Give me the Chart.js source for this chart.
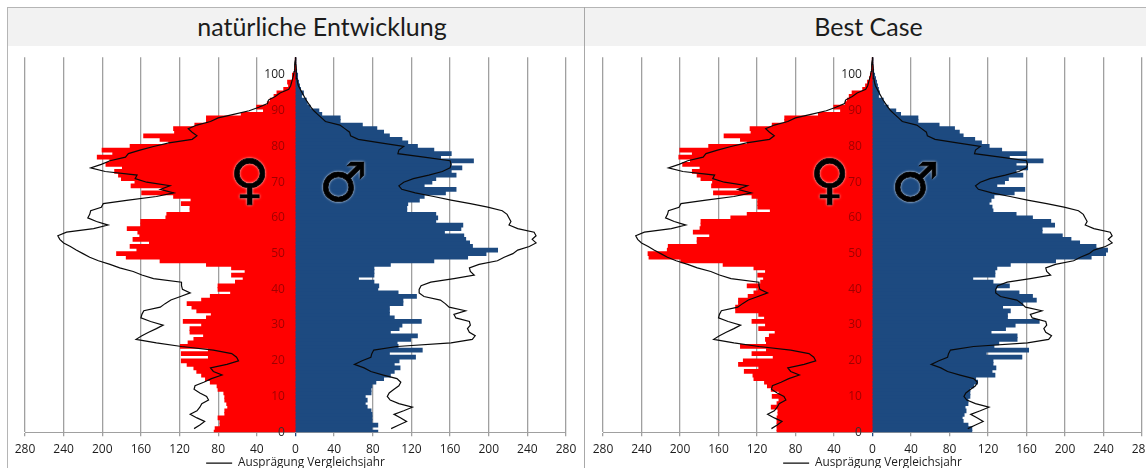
<!DOCTYPE html>
<html><head><meta charset="utf-8">
<script src="https://cdn.jsdelivr.net/npm/chart.js@4"></script>
<style>
html,body{margin:0;padding:0;background:#fff;width:1146px;height:468px;overflow:hidden;font-family:"Open Sans",sans-serif}
#frame{position:absolute;left:7px;top:7px;width:1139px;height:461px;border-left:1px solid #b5b5b5;border-top:1px solid #b5b5b5;box-sizing:border-box}
.divider{position:absolute;left:584px;top:7px;width:1px;height:461px;background:#a8a8a8}
.head{position:absolute;top:8px;height:38px;box-sizing:border-box;background:#f2f2f2;color:#1c1c1c;font:25px/36px Lato,sans-serif;text-align:center}
.holder{position:absolute;top:47px;height:432px}
.sym{position:absolute;color:#000;font-family:"DejaVu Sans";font-size:54px;line-height:1;-webkit-text-stroke:.7px #000;text-shadow:0 0 3px rgba(255,255,255,.85),0 0 2px rgba(255,255,255,.6)}
</style></head><body>
<div id="frame"></div><div class="divider"></div>
<div class="head" style="left:8px;width:576px;padding-left:52px" id="t1"></div>
<div class="head" style="left:585px;width:561px;padding-left:6px" id="t2"></div>
<div class="holder" style="left:0;width:599px"><canvas id="c1" width="599" height="432"></canvas></div>
<div class="holder" style="left:578px;width:598px"><canvas id="c2" width="598" height="432"></canvas></div>
<div class="sym" style="left:230px;top:153px">♀</div>
<div class="sym" style="left:319px;top:156px">♂</div>
<div class="sym" style="left:810px;top:153px">♀</div>
<div class="sym" style="left:891px;top:156px">♂</div>
<script>
const titles = ["natürliche Entwicklung", "Best Case"];
const legendLabel = "Ausprägung Vergleichsjahr";
const ages = [];
for (let a = 0; a <= 105; a++) ages.push(String(a));

const femaleA = [84,83,78,78,80,73,73,70,71,73,73,74,80,81,88,93,97,102,105,112,118,90,118,90,119,111,105,95,109,109,97,116,92,87,102,107,112,97,88,67,80,80,62,54,66,52,66,92,140,175,185,164,171,151,168,161,163,174,160,160,134,133,109,109,118,108,126,159,137,170,166,180,183,187,179,196,192,205,189,200,171,131,140,157,125,126,104,92,92,56,33,40,29,26,22,19,12,7,8,3,3,1,0,0,0,0];
const maleA = [85,79,85,79,79,79,78,74,72,74,72,78,78,79,83,91,98,102,108,102,107,124,97,131,106,105,119,126,98,107,110,130,102,97,97,97,111,111,125,106,85,86,81,65,81,81,81,98,143,178,197,209,183,180,176,174,154,171,173,145,147,145,115,115,116,128,133,155,166,133,141,145,166,161,172,161,184,150,161,143,126,116,110,97,91,84,69,46,46,27,24,15,12,11,6,8,5,4,3,2,2,1,0,0,0,0];
const femaleB = [99,99,99,99,99,98,98,105,99,97,104,97,105,109,112,123,124,133,118,139,134,103,125,110,137,110,111,107,101,118,111,125,112,118,142,142,139,139,129,123,119,130,116,113,119,111,123,155,199,232,233,213,212,182,182,169,186,179,178,178,147,130,106,119,119,119,125,165,138,167,166,178,182,187,179,197,189,201,187,200,170,130,137,154,126,127,104,91,91,56,33,40,28,26,24,21,10,7,5,3,2,1,0,0,0,0];
const maleB = [103,103,99,94,93,95,97,96,99,99,101,101,101,105,109,107,127,124,128,125,125,155,118,162,126,131,150,150,123,138,148,173,140,140,143,135,156,170,166,152,128,142,125,104,127,127,129,143,190,227,242,244,232,215,206,197,176,176,189,185,166,149,125,124,121,123,126,147,158,129,137,141,156,149,161,149,177,142,160,134,121,113,106,94,90,85,69,47,47,29,24,16,12,11,6,7,6,5,4,3,2,1,0,0,0,0];
const lineFemale = [null,105,99,94,102,109,102,99,97,90,92,99,105,104,95,87,76,85,88,71,59,61,66,85,118,144,165,159,152,144,137,150,160,159,157,140,135,129,119,109,117,118,118,147,159,168,182,192,204,213,220,227,233,240,244,246,237,209,194,206,215,213,212,201,199,173,144,126,140,130,154,166,164,197,212,201,192,176,173,161,147,131,107,102,107,111,102,88,80,64,48,38,29,28,21,16,7,5,4,3,2,1.5,1,0.7,0.4,0];
const lineMale = [null,99,107,115,109,102,112,121,107,98,95,97,102,107,109,105,91,78,71,61,69,78,79,81,105,161,183,186,180,178,181,180,166,164,176,159,155,150,133,128,128,130,140,164,185,181,180,190,209,216,225,230,242,249,245,249,247,230,221,223,221,219,214,199,181,161,143,124,110,107,112,122,138,152,160,161,160,133,106,107,112,88,65,57,56,51,46,31,27,23,19,16,13.5,11,9,7,5,3,2,1.5,1,0.8,0.6,0.4,0.2,0];
const xTicks = [-280,-240,-200,-160,-120,-80,-40,0,40,80,120,160,200,240,280];

function makeChart(id, female, male, padLeft, padRight) {
  new Chart(document.getElementById(id), {
    data: {
      labels: ages,
      datasets: [
        {type:'bar', label:'Frauen', data:female.map(v => -v), backgroundColor:'#ff0000', grouped:false, order:3, barPercentage:1, categoryPercentage:1, inflateAmount:0.6},
        {type:'bar', label:'Männer', data:male, backgroundColor:'#1d4a80', grouped:false, order:3, barPercentage:1, categoryPercentage:1, inflateAmount:0.6},
        {type:'line', label:legendLabel, data:lineFemale.map(v => v === null ? null : -v), borderColor:'#0a0a0a', borderWidth:1.2, pointRadius:0, tension:0, order:1},
        {type:'line', label:'Männer Vergleich', data:lineMale, borderColor:'#0a0a0a', borderWidth:1.2, pointRadius:0, tension:0, order:1}
      ]
    },
    options: {
      indexAxis:'y', responsive:false, animation:false,
      layout:{padding:{left:padLeft,right:padRight,top:1,bottom:0}},
      plugins:{
        tooltip:{enabled:false},
        legend:{position:'bottom', labels:{
          filter:i => i.text === legendLabel, usePointStyle:true, pointStyle:'line', pointStyleWidth:26,
          color:'#1c1c1c', font:{family:'"Open Sans"',size:11.8}, padding:2, boxHeight:10
        }}
      },
      scales:{
        x:{type:'linear', min:-280, max:280, afterFit(a){a.height=23;},
          afterBuildTicks(a){a.ticks = xTicks.map(v => ({value:v}));},
          grid:{color:c => c.tick && c.tick.value === 0 ? '#1d4a80' : '#a0a0a0', lineWidth:1.3, tickLength:4, drawOnChartArea:true},
          border:{color:'#a0a0a0'},
          ticks:{color:'#1c1c1c', font:{family:'"Open Sans"',size:12}, padding:6, maxRotation:0, autoSkip:false, callback:v => Math.abs(v)}},
        y:{type:'category', reverse:true, offset:false, position:{x:-11},
          grid:{display:false}, border:{display:false},
          ticks:{z:1, autoSkip:false, font:{family:'"Open Sans"',size:12},
            color:c => c.index === 100 ? '#1c1c1c' : (c.index === 0 ? '#333' : 'rgba(80,0,0,.55)'),
            callback(v){const l = Number(this.getLabelForValue(v)); return l % 10 === 0 && l <= 100 ? l : '';}}}
      }
    }
  });
}
document.getElementById('t1').textContent = titles[0];
document.getElementById('t2').textContent = titles[1];
makeChart('c1', femaleA, maleA, 25, 33);
makeChart('c2', femaleB, maleB, 25, 34);
</script>
</body></html>
